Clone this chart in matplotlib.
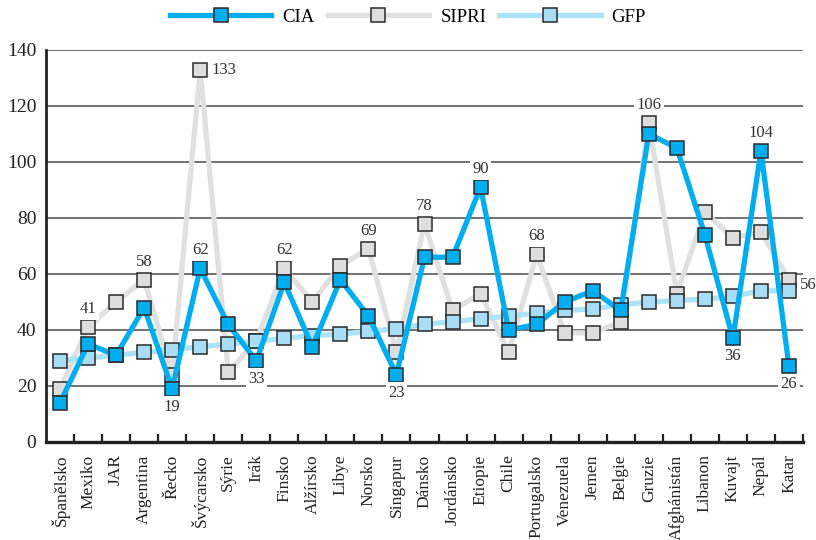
import numpy as np
import matplotlib
matplotlib.use("Agg")
import matplotlib.pyplot as plt

plt.rcParams['font.family'] = ['Liberation Serif', 'DejaVu Serif']

countries = ["Španělsko", "Mexiko", "JAR", "Argentina", "Řecko", "Švýcarsko", "Sýrie",
             "Irák", "Finsko", "Alžírsko", "Libye", "Norsko", "Singapur", "Dánsko",
             "Jordánsko", "Etiopie", "Chile", "Portugalsko", "Venezuela", "Jemen",
             "Belgie", "Gruzie", "Afghánistán", "Libanon", "Kuvajt", "Nepál", "Katar"]

cia = [14, 35, 31, 48, 19, 62, 42, 29, 57, 34, 58, 45, 24, 66, 66, 91, 40, 42, 50, 54,
       47, 110, 105, 74, 37, 104, 27]
sipri = [19, 41, 50, 58, 24, 133, 25, 36, 62, 50, 63, 69, 32, 78, 47, 53, 32, 67, 39, 39,
         43, 114, 53, 82, 73, 75, 58]
gfp = [29, 30, 31, 32, 33, 34, 35, 36, 37, 38, 38.5, 39.5, 40.5, 42, 43, 44, 45, 46, 47,
       47.5, 49, 50, 50.5, 51, 52, 54, 54]

# popisky: (index zeme, rada, text, kam)
label_idx = [1, 3, 4, 5, 5, 7, 8, 11, 12, 13, 15, 17, 21, 25, 24, 26, 26]
label_series = ["SIPRI", "SIPRI", "CIA", "CIA", "SIPRI", "CIA", "SIPRI", "SIPRI", "CIA",
                "SIPRI", "CIA", "SIPRI", "SIPRI", "CIA", "CIA", "CIA", "SIPRI"]
label_text = ["41", "58", "19", "62", "133", "33", "62", "69", "23", "78", "90", "68",
              "106", "104", "36", "26", "56"]
label_pos = ["above", "above", "below", "above", "right", "below", "above", "above", "below",
             "above", "above", "above", "above", "above", "below", "below", "right"]

series = {"CIA": cia, "SIPRI": sipri, "GFP": gfp}
line_col = {"CIA": "#00aeef", "SIPRI": "#e0e0e0", "GFP": "#ade3f8"}
face_col = {"CIA": "#00aeef", "SIPRI": "#dedede", "GFP": "#a9ddf6"}

fig = plt.figure(figsize=(8.16, 5.4), dpi=100)
ax = fig.add_axes([46/816, 1-442/540, 757/816, 392/540])

x = np.arange(len(countries))
handles = {}
for z, name in enumerate(["SIPRI", "GFP", "CIA"]):
    h, = ax.plot(x, series[name], color=line_col[name], lw=3.8, marker='s', ms=9.5,
                 mfc=face_col[name], mec='#2a2a2a', mew=1.1, zorder=3+z, label=name,
                 solid_joinstyle='miter')
    handles[name] = h

for i, s, t, p in zip(label_idx, label_series, label_text, label_pos):
    v = series[s][i]
    if p == "above":
        off, ha, va = (0, 13), 'center', 'center'
    elif p == "below":
        off, ha, va = (0, -13), 'center', 'center'
    else:
        off, ha, va = (8, -4 if t == "56" else 0), 'left', 'center'
    ax.annotate(t, (i, v), xytext=off, textcoords='offset points', ha=ha, va=va,
                fontsize=12, color='#333333', zorder=10, annotation_clip=False,
                bbox=dict(boxstyle='square,pad=0.15', fc='white', ec='none'))

ax.set_xlim(-0.5, 26.5)
ax.set_ylim(0, 140)
ax.set_yticks(np.arange(0, 141, 20))
ax.yaxis.grid(True, color='#4a4a4a', lw=1.1)
ax.set_axisbelow(True)
ax.tick_params(axis='y', length=0, pad=7, labelsize=14, colors='#222222')

ax.set_xticks(x)
ax.set_xticklabels(countries, rotation=90, fontsize=12.5, color='#222222')
ax.tick_params(axis='x', which='major', length=0, pad=9)
ax.set_xticks(np.arange(0.5, 27, 1), minor=True)
ax.tick_params(axis='x', which='minor', direction='in', length=6, width=1.6, color='#222222')

for sp in ['top', 'right']:
    ax.spines[sp].set_visible(False)
ax.spines['bottom'].set_linewidth(2.4)
ax.spines['bottom'].set_color('#222222')
ax.spines['left'].set_linewidth(2.0)
ax.spines['left'].set_color('#222222')

fig.legend([handles["CIA"], handles["SIPRI"], handles["GFP"]], ["CIA", "SIPRI", "GFP"],
           loc='center', bbox_to_anchor=(0.5, 1-17/540), ncol=3, frameon=False,
           fontsize=13.5, handlelength=5.4, handletextpad=0.6, columnspacing=0.7)

fig.savefig("out.png", dpi=100)
